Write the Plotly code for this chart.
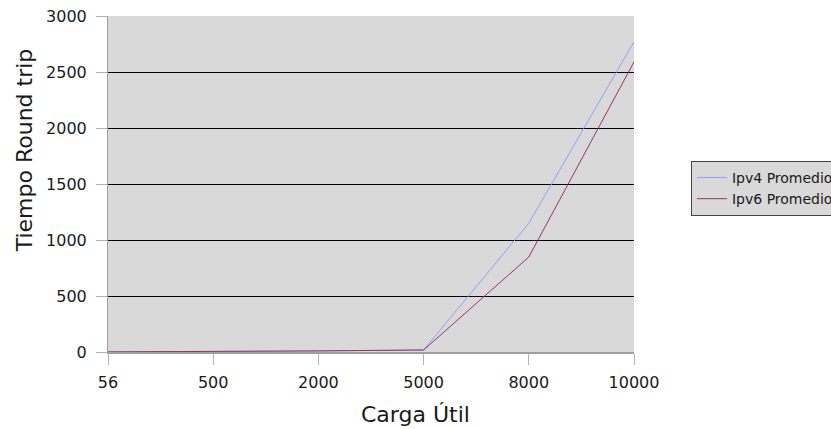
import plotly.graph_objects as go

categories = ["56", "500", "2000", "5000", "8000", "10000"]
ipv4 = [1, 3, 9, 18, 1150, 2770]
ipv6 = [1, 3, 10, 18, 848, 2590]
y_ticks = [0, 500, 1000, 1500, 2000, 2500, 3000]

fig = go.Figure()
fig.add_trace(go.Scatter(x=categories, y=ipv4, mode="lines", name="Ipv4 Promedio",
                         line=dict(color="#9999ff", width=1)))
fig.add_trace(go.Scatter(x=categories, y=ipv6, mode="lines", name="Ipv6 Promedio",
                         line=dict(color="#993366", width=1)))

font = "DejaVu Sans, sans-serif"
fig.update_layout(
    width=831, height=429,
    margin=dict(l=108, r=197, t=16, b=77),
    plot_bgcolor="#d9d9d9", paper_bgcolor="white",
    font=dict(family=font, size=16, color="#1a1a1a"),
    showlegend=True,
    legend=dict(xref="container", yref="container", x=0.8315, y=0.625,
                xanchor="left", yanchor="top",
                bgcolor="#d9d9d9", bordercolor="#444", borderwidth=1,
                font=dict(size=14, family=font, color="#1a1a1a"),
                itemwidth=30, tracegroupgap=0),
    annotations=[
        dict(text="Carga Útil", xref="paper", yref="paper", x=0.5837, y=-0.187,
             xanchor="center", yanchor="middle", showarrow=False,
             font=dict(size=22, family=font, color="#1a1a1a")),
        dict(text="Tiempo Round trip", xref="paper", yref="paper", x=-0.158, y=0.6,
             xanchor="center", yanchor="middle", showarrow=False, textangle=-90,
             font=dict(size=22, family=font, color="#1a1a1a")),
    ],
)
fig.update_xaxes(type="category", range=[0, 5], showgrid=False, automargin=False,
                 showline=True, linecolor="#a0a0a0", linewidth=2,
                 ticks="outside", ticklen=11, tickcolor="#b3b3b3",
                 ticklabelstandoff=4, tickfont=dict(size=16))
fig.update_yaxes(range=[0, 3000], tickvals=y_ticks, showgrid=True, gridcolor="black",
                 gridwidth=1, zeroline=False, showline=True, linecolor="#a0a0a0",
                 linewidth=1, ticks="outside", ticklen=11, tickcolor="#b3b3b3",
                 ticklabelstandoff=6, automargin=False, tickfont=dict(size=16))
fig.write_html("out.html", config={"displayModeBar": False},
               post_script="document.body.style.margin='0px';")
